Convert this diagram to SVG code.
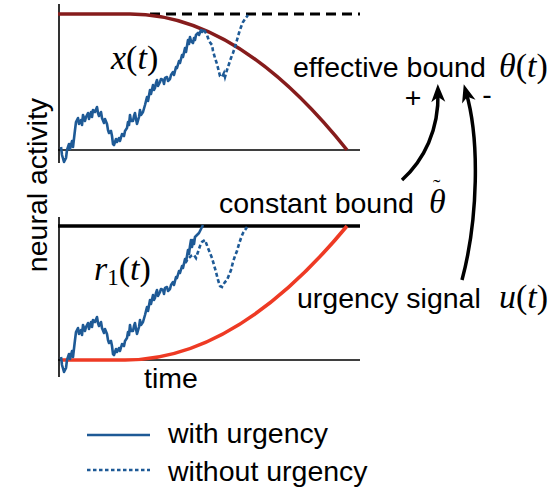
<svg xmlns="http://www.w3.org/2000/svg" width="556" height="488" viewBox="0 0 556 488">
<style>
.lbl{font-family:"Liberation Sans",Arial,sans-serif;font-size:28.5px;fill:#000}
.math{font-family:"Liberation Serif","Times New Roman",serif;font-size:34px;fill:#000}
.it{font-style:italic}
.ax{stroke:#000;stroke-width:1.6;fill:none}
.walk{stroke:#1e5a96;stroke-width:2.6;fill:none;stroke-linejoin:round}
.walkd{stroke:#1e5a96;stroke-width:2.6;fill:none;stroke-dasharray:4 2.5}
.arr{stroke:#000;stroke-width:3.5;fill:none;marker-end:url(#ah)}
</style>
<defs>
<marker id="ah" markerUnits="userSpaceOnUse" markerWidth="20" markerHeight="16" refX="10" refY="7" orient="auto" overflow="visible">
<path d="M0,0 L18,7 L0,14 L5,7 z" fill="#000"/>
</marker>
</defs>
<rect width="556" height="488" fill="#fff"/>

<g id="top-panel">
<path class="ax" d="M59,4 V163 M58,150 H360"/>
<path d="M150,14 H360" stroke="#000" stroke-width="3" stroke-dasharray="10 6" fill="none"/>
<path d="M58,14 H130 Q238.5,14 347,150" stroke="#861c1c" stroke-width="3.6" fill="none"/>
<polyline class="walk" points="61,147 62,155 64,162 66,158 67,150 69,144 70,149 72,141 73,147 75,130 76,122 78,118 79,124 81,120 82,125 83,115 85,121 86,117 88,113 89,119 91,112 92,117 93,110 95,112 97,107 98,113 99,116 101,112 102,118 104,123 105,119 107,124 108,130 109,133 111,131 112,136 113,144 114,145 116,139 117,142 119,138 120,141 122,134 124,136 125,131 127,128 128,122 129,125 130,115 131,121 133,121 134,116 135,113 136,119 137,124 139,117 140,110 141,115 143,112 145,105 147,97 148,101 150,90 151,94 153,85 154,90 155,88 156,83 157,80 158,86 160,82 161,79 163,80 164,84 165,78 167,77 168,81 170,79 171,75 173,72 174,75 176,67 177,68 179,61 180,63 182,55 183,57 185,48 186,52 187,46 188,40 189,44 190,37 191,41 193,43 194,38 195,40 196,35 198,33 199,35 201,30 202,32 204,30"/>
<polyline class="walkd" points="204,30 207,35 209,41 212,45 213,51 215,58 217,64 219,72 220,76 222,77 224,73 225,77 227,70 229,64 231,58 233,53 235,47 237,40 239,33 241,27 243,22 245,19 248,15"/>
<text class="math" x="111" y="69"><tspan class="it">x</tspan>(<tspan class="it">t</tspan>)</text>
</g>

<g id="bottom-panel">
<path class="ax" d="M59,217 V377 M58,360 H360"/>
<path d="M58,226 H360" stroke="#000" stroke-width="3.4" fill="none"/>
<path d="M62,360 H125 Q236,360 347,226" stroke="#ee3a24" stroke-width="3.6" fill="none"/>
<polyline class="walk" points="61,357 62,365 64,372 66,368 67,360 69,354 70,359 72,351 73,357 75,340 76,332 78,328 79,334 81,330 82,335 83,325 85,331 86,327 88,323 89,329 91,322 92,327 93,320 95,322 97,317 98,323 99,326 101,322 102,328 104,333 105,329 107,334 108,340 109,343 111,341 112,346 113,354 114,355 116,349 117,352 119,348 120,351 122,344 124,346 125,341 127,338 128,332 129,335 130,325 131,331 133,331 134,326 135,323 136,329 137,334 139,327 140,320 141,325 143,322 145,315 147,307 148,311 150,300 151,304 153,295 154,300 155,298 156,293 157,290 158,296 160,292 161,289 163,290 164,294 165,288 167,287 168,291 170,289 171,285 173,282 174,285 176,277 177,278 179,271 180,273 182,266 183,268 185,259 186,262 187,256 188,250 189,254 190,246 191,240 192,247 193,240 194,244 195,237 197,235 199,233 201,229 203,225"/>
<polyline class="walkd" points="185,263 188,259 191,256 194,255 196,258 198,252 200,246 202,242 205,240 208,248 210,253 212,258 214,265 216,272 218,280 220,286 222,287 223,285 225,282 227,280 229,275 231,270 233,262 235,256 237,251 239,244 241,238 243,233 245,230 247,227"/>
<text class="math" x="94" y="280"><tspan class="it">r</tspan><tspan font-size="23" dy="5">1</tspan><tspan dy="-5">(</tspan><tspan class="it">t</tspan>)</text>
</g>

<g id="ylabel">
<text class="lbl" transform="translate(47,185) rotate(-90)" text-anchor="middle" font-size="31">neural activity</text>
</g>
<g id="xlabel">
<text class="lbl" x="171" y="388" text-anchor="middle">time</text>
</g>

<g id="effective-bound">
<text class="lbl" x="293" y="77">effective bound</text>
<text class="math" x="499" y="77"><tspan class="it">θ</tspan>(<tspan class="it">t</tspan>)</text>
<text class="lbl" x="413" y="107" text-anchor="middle">+</text>
<text class="lbl" x="487" y="104" text-anchor="middle">-</text>
</g>
<g id="constant-bound">
<text class="lbl" x="219" y="213">constant bound</text>
<text class="math" x="429" y="213"><tspan class="it">θ</tspan><tspan x="433" y="194" font-size="22">˜</tspan></text>
</g>
<g id="urgency-signal">
<text class="lbl" x="297" y="308">urgency signal</text>
<text class="math" x="499" y="308"><tspan class="it">u</tspan>(<tspan class="it">t</tspan>)</text>
</g>

<g id="connectors">
<path class="arr" d="M402,180 C424,160 439,130 438,92"/>
<path class="arr" d="M462,280 C478,220 480,140 466,92"/>
</g>

<g id="legend">
<path d="M87,435 H150" stroke="#1e5a96" stroke-width="2.4"/>
<path d="M87,470 H150" stroke="#1e5a96" stroke-width="2.4" stroke-dasharray="3.5 2.5"/>
<text class="lbl" x="168" y="443">with urgency</text>
<text class="lbl" x="168" y="481">without urgency</text>
</g>
</svg>
